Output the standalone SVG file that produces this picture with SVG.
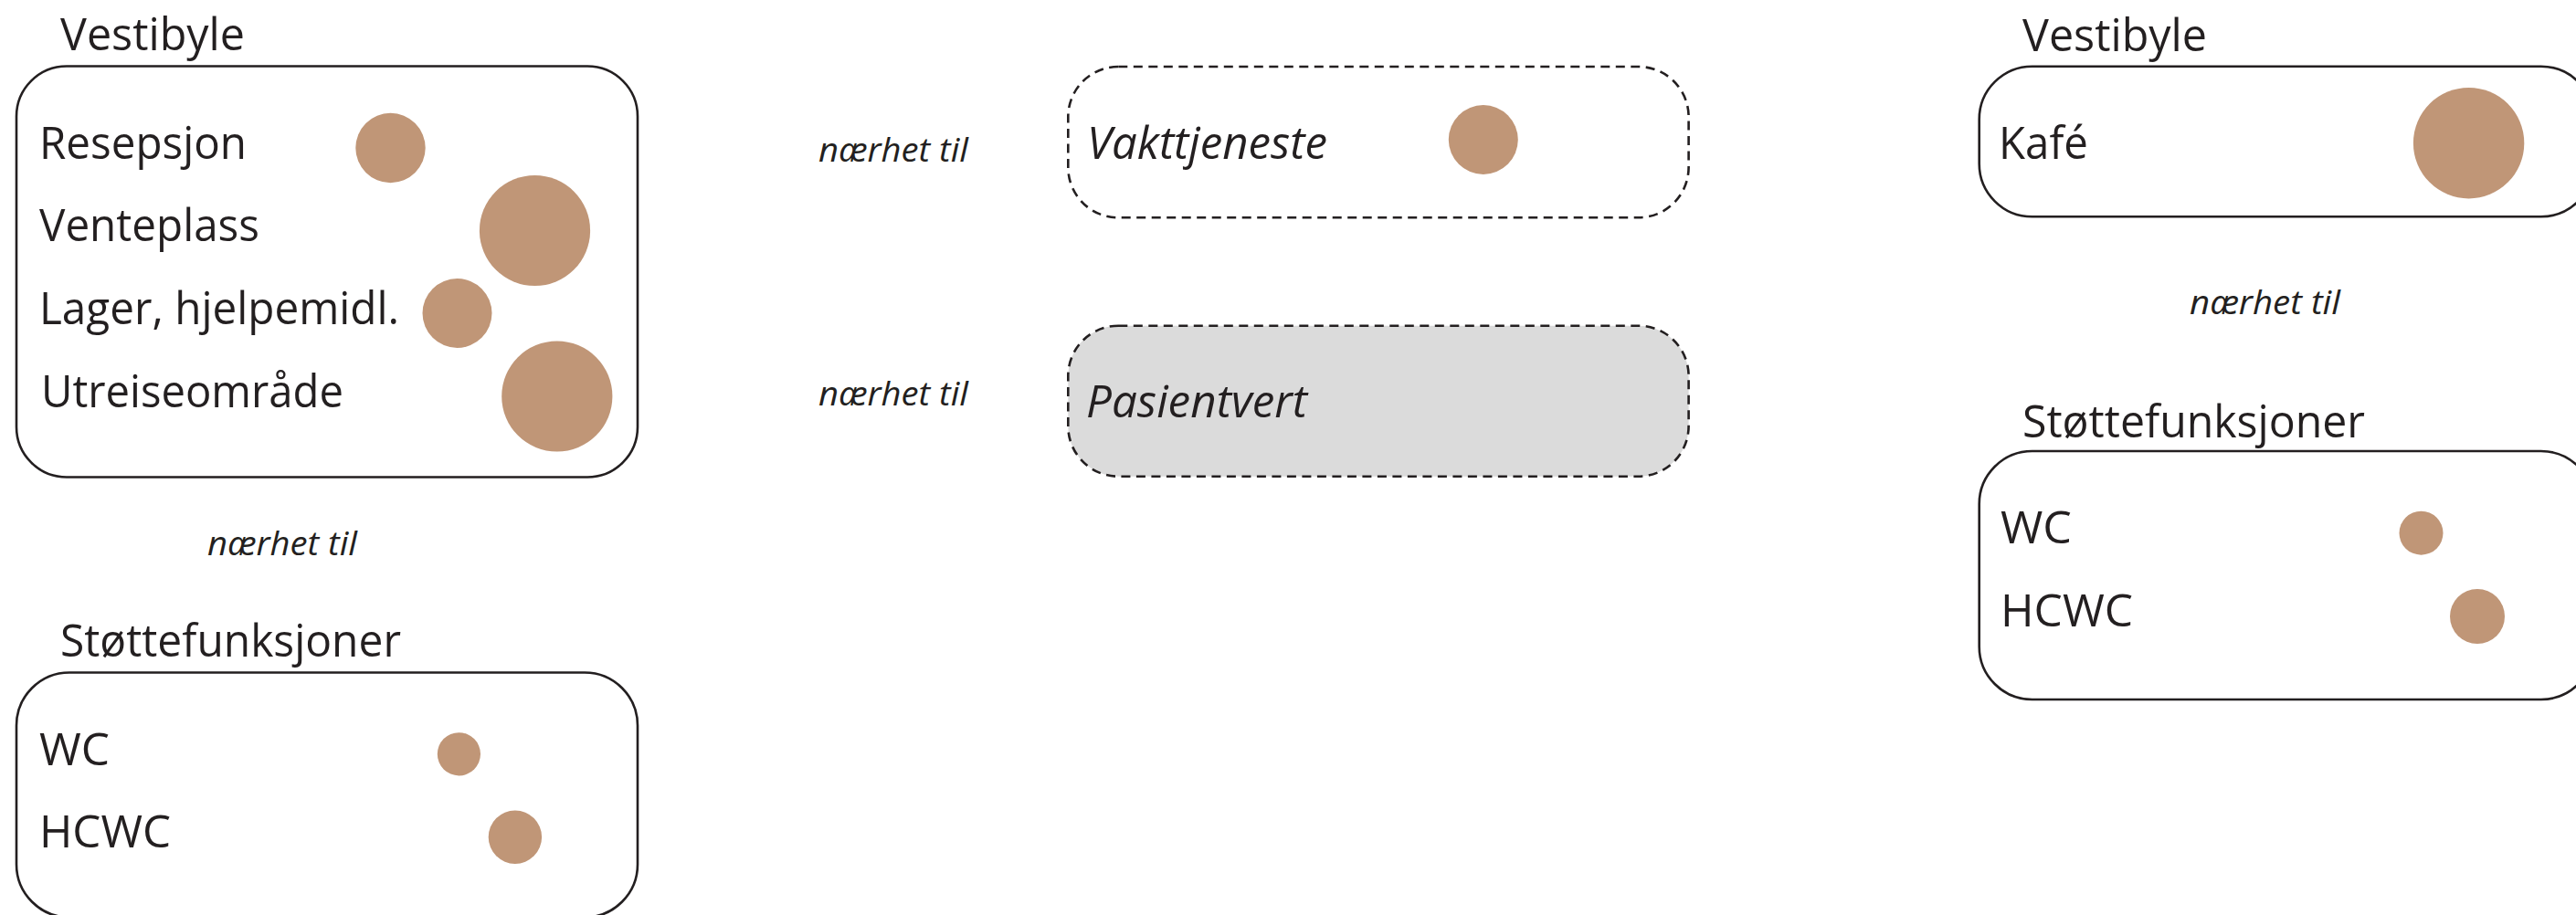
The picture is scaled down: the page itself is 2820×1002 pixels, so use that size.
<svg xmlns="http://www.w3.org/2000/svg" width="2820" height="1002" viewBox="0 0 2820 1002">
<style>
  .box{fill:none;stroke:#231F20;stroke-width:2.6}
  .dash{fill:none;stroke:#231F20;stroke-width:2.6;stroke-dasharray:10 6.5}
  .grey{fill:#DBDBDB}
  .dot{fill:#C09677}
  .t{font-family:"Open Sans","Noto Sans","Liberation Sans",sans-serif;font-size:50px;fill:#231F20}
  .ti{font-family:"Open Sans","Noto Sans","Liberation Sans",sans-serif;font-size:50px;font-style:italic;fill:#231F20}
  .rel{font-family:"Open Sans","Noto Sans","Liberation Sans",sans-serif;font-size:37px;font-style:italic;fill:#231F20}
</style>
<rect width="2820" height="1002" fill="#FFFFFF"/>

<g id="vestibyle-left">
  <text class="t" x="66" y="55" textLength="202" lengthAdjust="spacingAndGlyphs">Vestibyle</text>
  <rect class="box" x="18" y="72.5" width="680" height="450" rx="55" ry="55"/>
  <text class="t" x="43" y="173.5" textLength="227" lengthAdjust="spacingAndGlyphs">Resepsjon</text>
  <circle class="dot" cx="427.5" cy="162" r="38.2"/>
  <text class="t" x="43" y="264" textLength="241" lengthAdjust="spacingAndGlyphs">Venteplass</text>
  <circle class="dot" cx="585.5" cy="252.5" r="60.6"/>
  <text class="t" x="43" y="355" textLength="394" lengthAdjust="spacingAndGlyphs">Lager, hjelpemidl.</text>
  <circle class="dot" cx="500.5" cy="343" r="38"/>
  <text class="t" x="45" y="446" textLength="331" lengthAdjust="spacingAndGlyphs">Utreiseområde</text>
  <circle class="dot" cx="609.8" cy="434" r="60.6"/>
</g>

<g id="stottefunksjoner-left">
  <text class="t" x="66" y="719" textLength="373" lengthAdjust="spacingAndGlyphs">Støttefunksjoner</text>
  <rect class="box" x="18" y="736.5" width="680" height="268" rx="58" ry="58"/>
  <text class="t" x="43" y="837.7" textLength="77" lengthAdjust="spacingAndGlyphs">WC</text>
  <circle class="dot" cx="502.4" cy="825.8" r="23.6"/>
  <text class="t" x="43" y="928.3" textLength="144" lengthAdjust="spacingAndGlyphs">HCWC</text>
  <circle class="dot" cx="563.9" cy="916.7" r="29.2"/>
</g>

<g id="vakttjeneste">
  <rect class="dash" x="1169.3" y="73" width="679.3" height="165.3" rx="55" ry="55"/>
  <text class="ti" x="1190" y="174.3" textLength="263" lengthAdjust="spacingAndGlyphs">Vakttjeneste</text>
  <circle class="dot" cx="1623.8" cy="153" r="38"/>
</g>

<g id="pasientvert">
  <rect class="dash grey" x="1169.3" y="356.7" width="679.3" height="165" rx="55" ry="55"/>
  <text class="ti" x="1189" y="457.3" textLength="242" lengthAdjust="spacingAndGlyphs">Pasientvert</text>
</g>

<g id="vestibyle-right">
  <text class="t" x="2214" y="55.7" textLength="202" lengthAdjust="spacingAndGlyphs">Vestibyle</text>
  <rect class="box" x="2166.7" y="72.7" width="673" height="164.6" rx="58" ry="58"/>
  <text class="t" x="2188" y="174" textLength="98" lengthAdjust="spacingAndGlyphs">Kafé</text>
  <circle class="dot" cx="2702.6" cy="156.7" r="60.7"/>
</g>

<g id="stottefunksjoner-right">
  <text class="t" x="2214" y="478.5" textLength="375" lengthAdjust="spacingAndGlyphs">Støttefunksjoner</text>
  <rect class="box" x="2166.7" y="494" width="673" height="272" rx="58" ry="58"/>
  <text class="t" x="2190" y="595.4" textLength="78" lengthAdjust="spacingAndGlyphs">WC</text>
  <circle class="dot" cx="2650.5" cy="583.7" r="24"/>
  <text class="t" x="2190" y="686.4" textLength="145" lengthAdjust="spacingAndGlyphs">HCWC</text>
  <circle class="dot" cx="2712" cy="675" r="30"/>
</g>

<g id="connectors">
  <text class="rel" x="227" y="608" textLength="164" lengthAdjust="spacingAndGlyphs">nærhet til</text>
  <text class="rel" x="896" y="177" textLength="164" lengthAdjust="spacingAndGlyphs">nærhet til</text>
  <text class="rel" x="896" y="443.5" textLength="164" lengthAdjust="spacingAndGlyphs">nærhet til</text>
  <text class="rel" x="2397" y="344" textLength="165" lengthAdjust="spacingAndGlyphs">nærhet til</text>
</g>
</svg>
